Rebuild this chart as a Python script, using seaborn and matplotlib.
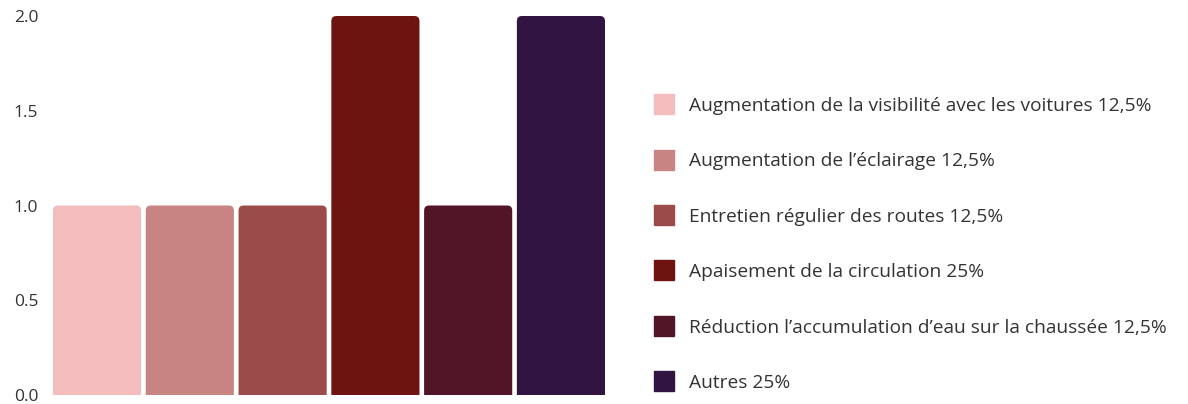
import matplotlib
matplotlib.use("Agg")
import matplotlib.pyplot as plt
from matplotlib.patches import FancyBboxPatch
from matplotlib.lines import Line2D
import seaborn as sns

# Survey answers: suggested improvements and number of responses
categories = [
    "Augmentation de la visibilité avec les voitures",
    "Augmentation de l’éclairage",
    "Entretien régulier des routes",
    "Apaisement de la circulation",
    "Réduction l’accumulation d’eau sur la chaussée",
    "Autres",
]
values = [1, 1, 1, 2, 1, 2]
colors = ["#F4BDBD", "#C78482", "#9B4C4A", "#6E1410", "#521528", "#311440"]
y_ticks = [0.0, 0.5, 1.0, 1.5, 2.0]

sns.set_theme(style="white")
plt.rcParams["font.family"] = ["Open Sans", "DejaVu Sans"]
text_color = "#333333"

W, H, DPI = 1188, 404, 100
fig = plt.figure(figsize=(W / DPI, H / DPI), dpi=DPI)
ax = fig.add_axes([53 / W, 9 / H, 552 / W, 379 / H])

sns.barplot(x=categories, y=values, hue=categories, palette=colors,
            width=0.95, legend=False, ax=ax, linewidth=0, saturation=1)

ax.set_xlim(-0.475, len(values) - 1 + 0.475)
ax.set_ylim(0, 2.0)
ax.set_yticks(y_ticks)
ax.set_yticklabels([f"{t:.1f}" for t in y_ticks])
ax.set_xticks([])
ax.tick_params(axis="y", length=0, pad=10.5, labelsize=12.5, labelcolor=text_color)
for s in ax.spines.values():
    s.set_visible(False)
ax.set_xlabel("")
ax.set_ylabel("")

# Swap the plain bars for versions with rounded top corners
fig.canvas.draw()
x_per_px = 1.0 / (ax.transData.transform((1, 0))[0] - ax.transData.transform((0, 0))[0])
y_per_px = 1.0 / (ax.transData.transform((0, 1))[1] - ax.transData.transform((0, 0))[1])
radius_px = 5
r = radius_px * x_per_px
aspect = y_per_px / x_per_px
bars = list(ax.patches)
for p in bars:
    x, w, h = p.get_x(), p.get_width(), p.get_height()
    fc = p.get_facecolor()
    p.remove()
    rounded = FancyBboxPatch((x, -r * aspect * 2), w, h + r * aspect * 2,
                             boxstyle=f"round,pad=0,rounding_size={r}",
                             mutation_aspect=aspect, facecolor=fc,
                             edgecolor="none", linewidth=0)
    ax.add_patch(rounded)

# Legend with shares of the total
total = sum(values)
def share(v):
    pct = v / total * 100
    s = f"{pct:.1f}".rstrip("0").rstrip(".")
    return s.replace(".", ",") + "%"

handles = [Line2D([0], [0], marker="s", linestyle="none", markersize=15,
                  markerfacecolor=c, markeredgecolor=c) for c in colors]
labels = [f"{c} {share(v)}" for c, v in zip(categories, values)]
fig.legend(handles, labels, loc="center left",
           bbox_to_anchor=(654 / W, (H - 244.5) / H),
           frameon=False, fontsize=13.8, labelcolor=text_color,
           handlelength=1.0, handletextpad=0.85, labelspacing=1.95,
           borderpad=0, borderaxespad=0)

fig.savefig("out.png", dpi=DPI)
